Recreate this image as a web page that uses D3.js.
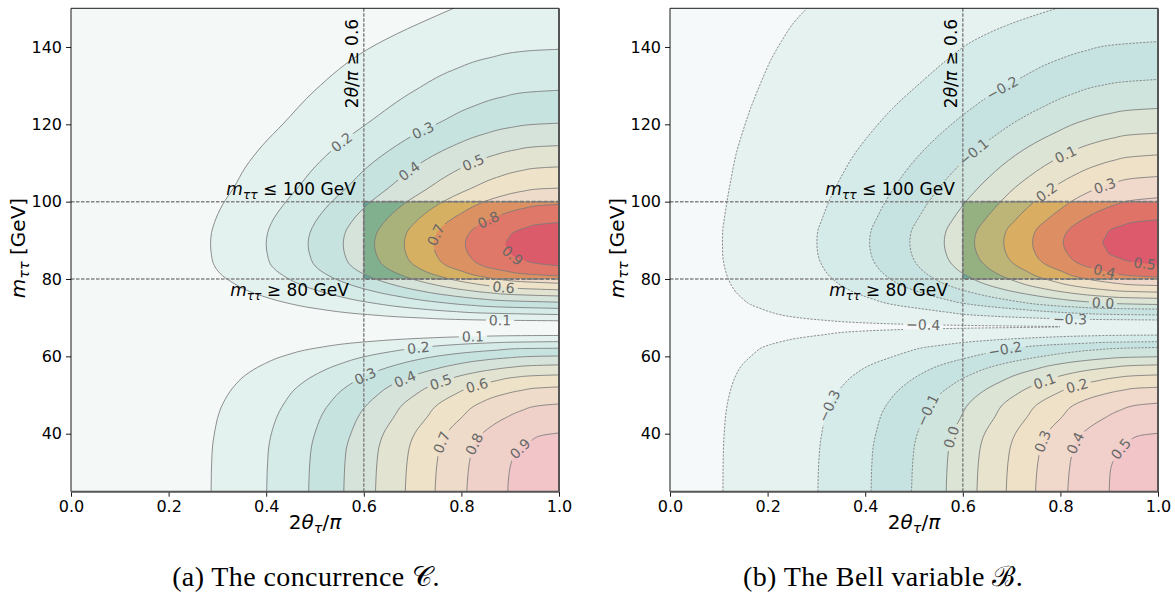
<!DOCTYPE html>
<html><head><meta charset="utf-8">
<script src="https://cdn.jsdelivr.net/npm/d3@7"></script>
<style>body{margin:0;background:#fff}svg{display:block}</style>
</head><body>
<script>
// ------------------------- DATA -------------------------
const xTicks = [0, 0.2, 0.4, 0.6, 0.8, 1.0];
const yTicks = [40, 60, 80, 100, 120, 140];
const cutX = 0.6, cutLow = 80, cutHigh = 100;

// (a) concurrence: contour levels and contour lines [x = 2θ/π, m_ττ]
const concLevels = [0.1, 0.2, 0.3, 0.4, 0.5, 0.6, 0.7, 0.8, 0.9];
const concLower = [
 [[.287,25],[.289,35],[.294,40.2],[.311,47.7],[.333,52.1],[.358,55.2],[.392,57.8],[.436,60.1],[.500,62.1],[.608,63.8],[.705,64.6],[.784,65.0],[.844,65.2],[.921,65.35],[1,65.4]],
 [[.401,25],[.404,35],[.411,40.2],[.436,47.7],[.464,52.1],[.500,55.2],[.546,57.8],[.608,60.1],[.650,61.1],[.705,62.1],[.784,63],[.844,63.4],[.921,63.7],[1,63.8]],
 [[.487,25],[.491,35],[.500,40.2],[.529,47.7],[.564,52.1],[.608,55.2],[.667,57.8],[.705,59],[.753,60.1],[.821,61.1],[.872,61.6],[.919,62.0],[1,62.1]],
 [[.559,25],[.563,35],[.574,40.2],[.608,47.7],[.628,50],[.650,52.1],[.676,53.7],[.705,55.2],[.740,56.5],[.784,57.8],[.844,59],[.895,59.6],[.951,60.0],[1,60.1]],
 [[.624,25],[.629,35],[.641,40.2],[.660,44],[.681,47.7],[.705,50],[.732,52.1],[.765,53.7],[.805,55.2],[.860,56.5],[.904,57.2],[.943,57.6],[1,57.8]],
 [[.685,25],[.691,35],[.705,40.2],[.728,44],[.753,47.7],[.784,50],[.821,52.1],[.872,53.7],[.905,54.5],[.950,55.0],[1,55.2]],
 [[.746,25],[.753,35],[.770,40.2],[.799,44],[.834,47.7],[.881,50],[.923,51.2],[.955,51.8],[1,52.1]],
 [[.811,25],[.820,35],[.844,40.2],[.889,44],[.924,46],[.957,47.2],[1,47.7]],
 [[.895,25],[.898,30],[.912,35],[.941,38],[.963,39.5],[1,40.2]]
];
const concUpper = [
 [[1,69.2],[.844,69.4],[.705,70.0],[.608,70.8],[.500,72.4],[.436,74.0],[.392,75.6],[.358,77.2],[.333,78.9],[.311,80.8],[.294,83.4],[.288,86],[.286,89],[.288,92],[.294,94.6],[.311,99.3],[.333,103.5],[.358,109],[.392,114.5],[.436,120.3],[.500,128.8],[.608,139.4],[.784,150]],
 [[1,70.8],[.844,71.2],[.784,71.6],[.705,72.4],[.608,74.0],[.546,75.6],[.500,77.2],[.464,78.9],[.436,80.8],[.411,83.4],[.403,86],[.400,89],[.403,92],[.411,94.6],[.436,99.3],[.464,103.5],[.500,109],[.546,114.5],[.608,120.3],[.705,128.8],[.784,134.1],[.857,137.2],[.937,139.0],[1,139.4]],
 [[1,72.4],[.872,72.8],[.821,73.2],[.753,74.0],[.667,75.6],[.608,77.2],[.564,78.9],[.529,80.8],[.500,83.4],[.490,86],[.486,89],[.490,92],[.500,94.6],[.529,99.3],[.564,103.5],[.608,109],[.667,114.5],[.705,117.4],[.753,120.3],[.821,124.5],[.885,127.1],[.936,128.3],[1,128.8]],
 [[1,74.0],[.889,74.4],[.844,74.8],[.784,75.6],[.705,77.2],[.650,78.9],[.608,80.8],[.574,83.4],[.562,86],[.558,89],[.562,92],[.574,94.6],[.608,99.3],[.650,103.5],[.705,109],[.740,111.75],[.784,114.5],[.844,117.4],[.902,119.2],[.951,120.0],[1,120.3]],
 [[1,75.6],[.900,76.0],[.860,76.4],[.805,77.2],[.732,78.9],[.681,80.8],[.641,83.4],[.627,86],[.622,89],[.627,92],[.641,94.6],[.681,99.3],[.732,103.5],[.765,106.25],[.805,109],[.860,111.75],[.911,113.4],[.953,114.2],[1,114.5]],
 [[1,77.2],[.911,77.6],[.875,78.0],[.821,78.9],[.753,80.8],[.705,83.4],[.688,86],[.683,89],[.688,92],[.705,94.6],[.753,99.3],[.784,101.4],[.821,103.5],[.872,106.25],[.922,108.0],[.957,108.7],[1,109]],
 [[1,78.9],[.913,79.4],[.881,79.85],[.834,80.8],[.799,82.1],[.770,83.4],[.750,86],[.743,89],[.750,92],[.770,94.6],[.799,96.95],[.834,99.3],[.881,101.4],[.926,102.7],[.960,103.3],[1,103.5]],
 [[1,80.8],[.932,81.3],[.889,82.1],[.844,83.4],[.817,86],[.808,89],[.817,92],[.844,94.6],[.889,96.95],[.932,98.4],[.960,99.0],[1,99.3]],
 [[1,83.4],[.951,84.1],[.926,85],[.906,86],[.897,87.5],[.890,89],[.897,90.5],[.906,92],[.933,93.3],[.957,94.1],[1,94.6]]
];
// label anchors: [branch, level index, x, m]
const concLabelPos = [
 ['U',1,.551,115.9],['U',2,.719,118.9],['U',3,.691,108.2],['U',4,.824,110.3],['U',6,.742,91.8],
 ['U',7,.855,95.3],['U',8,.90,85.4],['U',5,.886,77.3],['U',0,.879,69.1],
 ['L',0,.824,65.5],['L',1,.712,62.5],['L',2,.602,55.2],['L',3,.684,54.3],['L',4,.756,53.9],
 ['L',5,.831,53.1],['L',6,.756,37.9],['L',7,.824,37.5],['L',8,.917,36.6]
];

// (b) Bell variable
const bellLevels = [-0.4, -0.3, -0.2, -0.1, 0.0, 0.1, 0.2, 0.3, 0.4, 0.5];
const bellMain = [[.1084,25],[.1093,35],[.1111,40.1],[.1178,47.9],[.1257,52],[.1354,55.2],[.1479,57.8],[.1647,59.9],[.1755,61.1],[.1888,62.3],[.2056,63.05],[.2279,63.8],[.2597,64.65],[.3098,65.5],[.389,66.5],[.497,67],[.619,67.3],[.708,67.45],[.799,67.65],[.697,67.85],[.604,68.0],[.484,68.3],[.392,68.7],[.310,69.4],[.260,70.05],[.228,70.7],[.206,71.45],[.189,72.2],[.165,73.4],[.148,75.0],[.135,76.6],[.126,78.3],[.118,80.5],[.111,83.6],[.108,86.5],[.1076,89.5],[.108,92.5],[.111,95.3],[.118,101],[.126,106.5],[.135,112.1],[.148,117.7],[.165,124.1],[.189,131.6],[.206,136.5],[.228,141.4],[.250,145.7],[.2804,150]];
const bellLower = [
 [[.303,25],[.306,35],[.311,40.1],[.329,47.9],[.351,52],[.377,55.2],[.411,57.8],[.456,59.9],[.485,61.1],[.521,62.3],[.566,63.05],[.619,63.8],[.721,64.65],[.782,65.0],[.859,65.3],[.931,65.45],[1,65.5]],
 [[.412,25],[.415,35],[.422,40.1],[.446,47.9],[.475,52],[.511,55.2],[.556,57.8],[.618,59.9],[.660,61.1],[.713,62.3],[.791,63.05],[.854,63.4],[.903,63.65],[1,63.8]],
 [[.495,25],[.499,35],[.507,40.1],[.521,44],[.536,47.9],[.571,52],[.615,55.2],[.673,57.8],[.711,58.85],[.758,59.9],[.825,61.1],[.874,61.7],[.929,62.1],[1,62.3]],
 [[.566,25],[.570,35],[.579,40.1],[.595,44],[.613,47.9],[.655,52],[.680,53.6],[.709,55.2],[.744,56.5],[.787,57.8],[.846,58.85],[.893,59.4],[.939,59.75],[1,59.9]],
 [[.629,25],[.634,35],[.645,40.1],[.664,44],[.685,47.9],[.708,50],[.736,52],[.768,53.6],[.808,55.2],[.862,56.5],[.908,57.2],[.945,57.6],[1,57.8]],
 [[.689,25],[.695,35],[.708,40.1],[.730,44],[.756,47.9],[.786,50],[.823,52],[.873,53.6],[.914,54.5],[.955,55.0],[1,55.2]],
 [[.749,25],[.757,35],[.772,40.1],[.801,44],[.835,47.9],[.883,50],[.926,51.2],[.960,51.8],[1,52]],
 [[.815,25],[.824,35],[.845,40.1],[.890,44],[.921,46],[.958,47.4],[1,47.9]],
 [[.900,25],[.902,30],[.918,35],[.940,38],[.962,39.5],[1,40.1]]
];
const bellUpper = [
 [[1,69.4],[.859,69.55],[.789,69.75],[.721,70.05],[.619,70.7],[.566,71.45],[.521,72.2],[.456,73.4],[.411,75.0],[.377,76.6],[.351,78.3],[.329,80.5],[.311,83.6],[.303,86.5],[.301,89.5],[.303,92.5],[.311,95.3],[.329,101],[.351,106.5],[.377,112.1],[.411,117.7],[.456,124.1],[.521,131.6],[.566,136.5],[.619,141.4],[.692,145.7],[.793,150]],
 [[1,70.7],[.903,70.85],[.844,71.1],[.791,71.45],[.713,72.2],[.660,72.8],[.618,73.4],[.556,75.0],[.511,76.6],[.475,78.3],[.446,80.5],[.422,83.6],[.412,86.5],[.409,89.5],[.412,92.5],[.422,95.3],[.446,101],[.475,106.5],[.511,112.1],[.556,117.7],[.618,124.1],[.660,127.85],[.713,131.6],[.791,136.5],[.851,139.0],[.913,140.6],[1,141.4]],
 [[1,72.2],[.897,72.4],[.825,72.8],[.758,73.4],[.711,74.2],[.673,75.0],[.615,76.6],[.571,78.3],[.536,80.5],[.507,83.6],[.495,86.5],[.4915,89.5],[.495,92.5],[.507,95.3],[.536,101],[.571,106.5],[.615,112.1],[.673,117.7],[.711,120.9],[.758,124.1],[.825,127.85],[.882,130.0],[.940,131.1],[1,131.6]],
 [[1,73.4],[.922,73.6],[.878,73.9],[.846,74.2],[.787,75.0],[.744,75.8],[.709,76.6],[.655,78.3],[.613,80.5],[.579,83.6],[.566,86.5],[.562,89.5],[.566,92.5],[.579,95.3],[.613,101],[.655,106.5],[.680,109.3],[.709,112.1],[.744,114.9],[.787,117.7],[.846,120.9],[.902,122.8],[.946,123.7],[1,124.1]],
 [[1,75.0],[.929,75.2],[.891,75.5],[.862,75.8],[.808,76.6],[.768,77.45],[.736,78.3],[.708,79.4],[.685,80.5],[.645,83.6],[.629,86.5],[.624,89.5],[.629,92.5],[.645,95.3],[.664,98.15],[.685,101],[.708,103.75],[.736,106.5],[.768,109.3],[.808,112.1],[.862,114.9],[.910,116.5],[.946,117.3],[1,117.7]],
 [[1,76.6],[.938,76.8],[.902,77.1],[.873,77.45],[.823,78.3],[.786,79.4],[.756,80.5],[.730,82.05],[.708,83.6],[.689,86.5],[.684,89.5],[.689,92.5],[.708,95.3],[.730,98.15],[.756,101],[.786,103.75],[.823,106.5],[.873,109.3],[.910,110.7],[.946,111.6],[1,112.1]],
 [[1,78.3],[.949,78.5],[.917,78.85],[.883,79.4],[.835,80.5],[.801,82.05],[.772,83.6],[.749,86.5],[.743,89.5],[.749,92.5],[.772,95.3],[.801,98.15],[.835,101],[.883,103.75],[.913,105.0],[.949,106.0],[1,106.5]],
 [[1,80.5],[.941,80.9],[.910,81.5],[.890,82.05],[.845,83.6],[.815,86.5],[.806,89.5],[.815,92.5],[.845,95.3],[.890,98.15],[.915,99.3],[.950,100.4],[1,101]],
 [[1,83.6],[.945,84.5],[.919,85.5],[.900,86.5],[.893,88],[.887,89.5],[.893,91],[.900,92.5],[.928,93.9],[.957,94.8],[1,95.3]]
];
const bellLabelPos = [
 ['U',2,.680,129.6],['U',3,.622,112.9],['U',5,.809,112.5],['U',6,.765,103.5],['U',7,.888,105.2],
 ['U',8,.891,82.3],['U',9,.973,84.5],['U',4,.888,74.1],['U',1,.820,69.4],['M',0,.519,67.8],
 ['L',2,.686,62.3],['L',1,.328,47.0],['L',3,.526,46.1],['L',4,.574,39.2],['L',5,.765,54.3],
 ['L',6,.833,53.0],['L',7,.765,37.9],['L',8,.833,37.5],['L',9,.926,35.8]
];

// ------------------------- STYLE -------------------------
const concFaded = ['#f4f8f7','#e4f2ef','#d4ebe8','#c7e3e0','#d6e3da','#e2e3d0','#eee3c8','#efdbc9','#f0d1ca','#f2c6c9'];
const concFull  = ['#dbe9e6','#a9d7cf','#7bc2b8','#5ca99d','#80b08e','#a9b27b','#d5b062','#dc9163','#df7868','#dc5b6b'];
const bellFaded = ['#f5f9f9','#e5f2f0','#d5ebe9','#c7e3e1','#cfe4dd','#dce4d5','#e8e3cc','#efe0c8','#f0d8ca','#f1cfca','#f2c6c9'];
const bellFull  = ['#dde9e7','#acd8d0','#7dc3ba','#5aab9f','#62ad9b','#95b182','#bdb478','#d9ad62','#dd8e63','#df7367','#dc5a6b'];

const W = 1175, H = 592, PW = 488, TOP = 8.3, BOT = 491.7;
const svg = d3.select('body').append('svg').attr('width', W).attr('height', H)
  .style('font-family', 'DejaVu Sans');
const defs = svg.append('defs');
const fmt = d3.format('.1f');

function mathText(g, parts, attrs) {
  const t = g.append('text');
  Object.entries(attrs).forEach(([k, v]) => t.attr(k, v));
  let shift = 0;
  parts.forEach(p => {
    const s = t.append('tspan').text(p.t);
    if (p.it) s.attr('font-style', 'italic');
    const want = p.sub ? 4 : 0;
    if (want !== shift) { s.attr('dy', want - shift); shift = want; }
    if (p.sub) s.attr('font-size', '0.72em');
  });
  return t;
}

function panel(o) {
  const x = d3.scaleLinear().domain([0, 1]).range([o.left, o.left + PW]);
  const y = d3.scaleLinear().domain([25, 150]).range([BOT, TOP]);
  const id = 'pn' + o.key;
  defs.append('clipPath').attr('id', id + 'c').append('rect')
    .attr('x', x(0)).attr('y', y(150)).attr('width', x(1) - x(0)).attr('height', y(25) - y(150));
  defs.append('clipPath').attr('id', id + 'b').append('rect')
    .attr('x', x(cutX)).attr('y', y(cutHigh)).attr('width', x(1) - x(cutX)).attr('height', y(cutLow) - y(cutHigh));
  const line = d3.line().x(d => x(d[0])).y(d => y(d[1])).curve(d3.curveMonotoneY);
  const C = o.contours;
  const fillD = c => {
    let p = line(c.pts);
    const last = c.pts[c.pts.length - 1];
    if (c.kind === 'U') { if (last[1] >= 150 && last[0] < 1) p += `L${x(1)},${y(150)}`; p += 'Z'; }
    else if (c.kind === 'L') p += `L${x(1)},${y(25)}Z`;
    else p += `L${x(1)},${y(150)}L${x(1)},${y(25)}Z`;
    return p;
  };
  [[o.faded, id + 'c'], [o.full, id + 'b']].forEach(([pal, cid]) => {
    const g = svg.append('g').attr('clip-path', `url(#${cid})`);
    g.append('rect').attr('x', x(0)).attr('y', y(150)).attr('width', PW).attr('height', y(25) - y(150)).attr('fill', pal[0]);
    C.slice().sort((a, b) => a.band - b.band).forEach(c =>
      g.append('path').attr('d', fillD(c)).attr('fill', pal[c.band]));
  });
  // contour lines
  const gl = svg.append('g').attr('clip-path', `url(#${id}c)`);
  C.forEach((c, i) => {
    c.node = gl.append('path').attr('d', line(c.pts)).attr('fill', 'none')
      .attr('stroke', '#7b7b7b').attr('stroke-width', 0.85)
      .attr('stroke-dasharray', c.neg ? '2.2,1.3' : null).node();
    c.id = id + 'm' + i;
  });
  // reference lines
  const gr = svg.append('g').attr('fill', 'none').attr('stroke', '#858585').attr('stroke-width', 1.5).attr('stroke-dasharray', '3.5,1.5');
  [cutLow, cutHigh].forEach(m => gr.append('line').attr('x1', x(0)).attr('x2', x(1)).attr('y1', y(m)).attr('y2', y(m)));
  gr.append('line').attr('x1', x(cutX)).attr('x2', x(cutX)).attr('y1', y(25)).attr('y2', y(150));
  svg.append('rect').attr('x', x(cutX)).attr('y', y(cutHigh)).attr('width', x(1) - x(cutX)).attr('height', y(cutLow) - y(cutHigh))
    .attr('fill', 'none').attr('stroke', '#777').attr('stroke-width', 1.8).attr('stroke-dasharray', '4,2');
  // contour labels
  const glab = svg.append('g').attr('font-size', '14px').attr('fill', '#686868');
  o.labels.forEach(([kind, li, lx, lm]) => {
    const c = C.find(c => c.kind === kind && c.li === li);
    const n = c.node, L = n.getTotalLength(), tx = x(lx), ty = y(lm);
    let best = 0, bd = 1e12;
    for (let s = 0; s <= L; s += 0.5) {
      const p = n.getPointAtLength(s); const d = (p.x - tx) ** 2 + (p.y - ty) ** 2;
      if (d < bd) { bd = d; best = s; }
    }
    const p = n.getPointAtLength(best), p1 = n.getPointAtLength(Math.max(0, best - 7)), p2 = n.getPointAtLength(Math.min(L, best + 7));
    let a = Math.atan2(p2.y - p1.y, p2.x - p1.x) * 180 / Math.PI;
    if (a > 90) a -= 180; if (a < -90) a += 180;
    const tr = `translate(${p.x},${p.y}) rotate(${a})`;
    const t = glab.append('text').attr('transform', tr).attr('text-anchor', 'middle').attr('dy', '0.36em').text(fmt(o.levels[li]));
    const w = t.node().getComputedTextLength();
    if (!c.mask) {
      c.mask = defs.append('mask').attr('id', c.id).attr('maskUnits', 'userSpaceOnUse')
        .attr('x', 0).attr('y', 0).attr('width', W).attr('height', H);
      c.mask.append('rect').attr('width', W).attr('height', H).attr('fill', '#fff');
      d3.select(n).attr('mask', `url(#${c.id})`);
    }
    c.mask.append('rect').attr('x', -w / 2 - 3).attr('y', -6).attr('width', w + 6).attr('height', 12)
      .attr('transform', tr).attr('fill', '#000');
  });
  // annotations
  const ga = svg.append('g').attr('fill', '#000').attr('font-size', '17px');
  mathText(ga, [{t:'2'},{t:'θ',it:1},{t:'/'},{t:'π',it:1},{t:' ≥ 0.6'}],
    {transform: `translate(${x(cutX) - 6},${63.5}) rotate(-90)`, 'text-anchor': 'middle'});
  mathText(ga, [{t:'m',it:1},{t:'ττ',it:1,sub:1},{t:' ≤ 100 GeV'}],
    {x: x(cutX) - 8, y: y(cutHigh) - 6.5, 'text-anchor': 'end'});
  mathText(ga, [{t:'m',it:1},{t:'ττ',it:1,sub:1},{t:' ≥ 80 GeV'}],
    {x: x(cutX) - 15, y: y(cutLow) + 16.5, 'text-anchor': 'end'});
  // axes
  const xa = svg.append('g').attr('transform', `translate(0,${BOT})`)
    .call(d3.axisBottom(x).tickValues(xTicks).tickFormat(fmt).tickSize(5).tickPadding(4));
  const ya = svg.append('g').attr('transform', `translate(${x(0)},0)`)
    .call(d3.axisLeft(y).tickValues(yTicks).tickFormat(d3.format('d')).tickSize(5).tickPadding(4));
  [xa, ya].forEach(a => {
    a.attr('font-size', 16).attr('font-family', 'DejaVu Sans');
    a.select('.domain').remove();
    a.selectAll('line').attr('stroke', '#000').attr('stroke-width', 0.9);
    a.selectAll('text').attr('fill', '#000');
  });
  // spines
  const sp = svg.append('g');
  sp.append('line').attr('x1', x(0)).attr('x2', x(0)).attr('y1', TOP).attr('y2', BOT).attr('stroke', '#000').attr('stroke-width', 0.9);
  sp.append('line').attr('x1', x(0)).attr('x2', x(1)).attr('y1', TOP).attr('y2', TOP).attr('stroke', '#000').attr('stroke-width', 0.9);
  sp.append('line').attr('x1', x(1)).attr('x2', x(1)).attr('y1', TOP).attr('y2', BOT).attr('stroke', '#555').attr('stroke-width', 2);
  sp.append('line').attr('x1', x(0)).attr('x2', x(1)).attr('y1', BOT).attr('y2', BOT).attr('stroke', '#555').attr('stroke-width', 2);
  // axis titles
  const gt = svg.append('g').attr('font-size', '20px').attr('fill', '#000');
  mathText(gt, [{t:'2'},{t:'θ',it:1},{t:'τ',it:1,sub:1},{t:'/'},{t:'π',it:1}],
    {x: (x(0) + x(1)) / 2, y: 529, 'text-anchor': 'middle'});
  mathText(gt, [{t:'m',it:1},{t:'ττ',it:1,sub:1},{t:' [GeV]'}],
    {transform: `translate(${o.left - 46},${248}) rotate(-90)`, 'text-anchor': 'middle'});
  // caption
  const cap = svg.append('text').attr('x', o.capX).attr('y', 586).attr('text-anchor', 'middle')
    .attr('font-family', 'Liberation Serif').attr('font-size', '28px').attr('fill', '#000')
    .attr('letter-spacing', '0.4px');
  cap.append('tspan').text(o.cap);
  cap.append('tspan').text(o.capSym);
  cap.append('tspan').text('.');
}

const concContours = [];
concLevels.forEach((lv, i) => {
  concContours.push({kind: 'L', li: i, band: i + 1, pts: concLower[i], neg: false});
  concContours.push({kind: 'U', li: i, band: i + 1, pts: concUpper[i], neg: false});
});
const bellContours = [{kind: 'M', li: 0, band: 1, pts: bellMain, neg: true}];
bellLevels.slice(1).forEach((lv, j) => {
  const i = j + 1;
  bellContours.push({kind: 'L', li: i, band: i + 1, pts: bellLower[j], neg: lv < 0});
  bellContours.push({kind: 'U', li: i, band: i + 1, pts: bellUpper[j], neg: lv < 0});
});

panel({key: 'a', left: 71, contours: concContours, labels: concLabelPos, levels: concLevels,
  faded: concFaded, full: concFull, cap: '(a) The concurrence ', capSym: '𝒞', capX: 306});
panel({key: 'b', left: 670, contours: bellContours, labels: bellLabelPos, levels: bellLevels,
  faded: bellFaded, full: bellFull, cap: '(b) The Bell variable ', capSym: 'ℬ', capX: 883});
</script>
</body></html>
